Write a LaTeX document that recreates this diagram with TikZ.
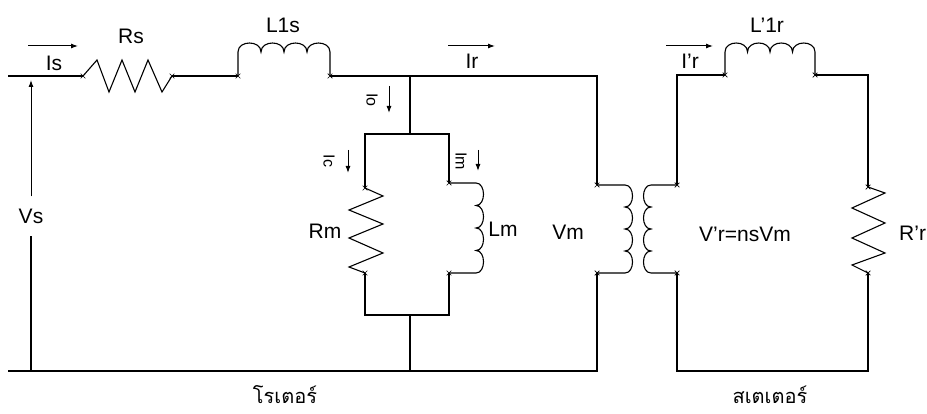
\documentclass[tikz,border=0pt]{standalone}
\usepackage{fontspec}
\setmainfont{Liberation Sans}
\newfontfamily\thaifont[Script=Thai]{Loma}
\usetikzlibrary{arrows.meta,shapes.misc}

\begin{document}
\begin{tikzpicture}[x=1pt,y=-1pt,
    wire/.style={line width=1.1pt},
    cur/.style={-{Latex[length=7pt,width=5pt]},line width=1pt},
    term/.style={cross out,draw,minimum size=4pt,inner sep=0pt,line width=0.7pt},
    lbl/.style={font=\fontsize{21}{24}\selectfont,inner sep=1pt},
    sub/.style={font=\fontsize{16}{18}\selectfont,rotate=-90,inner sep=1pt},
    thai/.style={font=\thaifont\fontsize{20}{24}\selectfont}]

    \useasboundingbox (0,0) rectangle (927,414);

    % terminals and corners
    \coordinate (inT) at (8,76);
    \coordinate (inB) at (8,371);
    \coordinate (rsA) at (83,76);
    \coordinate (rsB) at (172,76);
    \coordinate (l1sA) at (238,76);
    \coordinate (l1sB) at (330,76);
    \coordinate (jTop) at (410,76);
    \coordinate (jBar) at (410,134);
    \coordinate (barL) at (365,134);
    \coordinate (barR) at (449,134);
    \coordinate (rmA) at (365,188);
    \coordinate (rmB) at (365,273);
    \coordinate (lmA) at (449,183);
    \coordinate (lmB) at (449,273);
    \coordinate (lowL) at (365,315);
    \coordinate (lowR) at (449,315);
    \coordinate (jLow) at (410,315);
    \coordinate (jBot) at (410,371);
    \coordinate (priT) at (597,76);
    \coordinate (priA) at (597,185);
    \coordinate (priB) at (597,273);
    \coordinate (priD) at (597,371);
    \coordinate (secT) at (677,75);
    \coordinate (secA) at (677,185);
    \coordinate (secB) at (677,273);
    \coordinate (secD) at (677,371);
    \coordinate (l1rA) at (725,75);
    \coordinate (l1rB) at (815,75);
    \coordinate (rrT) at (868,75);
    \coordinate (rrA) at (868,187);
    \coordinate (rrB) at (868,273);
    \coordinate (rrD) at (868,371);
    \coordinate (vsB) at (31,371);
    \coordinate (vsT) at (31,80);

    % wires
    \draw[wire] (inT) -- (rsA);
    \draw[wire] (rsB) -- (l1sA);
    \draw[wire] (l1sB) -- (priT) -- (priA);
    \draw[wire] (jTop) -- (jBar);
    \draw[wire] (rmA) -- (barL) -- (barR) -- (lmA);
    \draw[wire] (rmB) -- (lowL) -- (lowR) -- (lmB);
    \draw[wire] (jLow) -- (jBot);
    \draw[wire] (inB) -- (priD) -- (priB);
    \draw[wire] (secA) -- (secT) -- (l1rA);
    \draw[wire] (l1rB) -- (rrT) -- (rrA);
    \draw[wire] (rrB) -- (rrD) -- (secD) -- (secB);

    % resistors
    \draw[wire] (rsA) -- (97,60) -- (109,92) -- (122,60) -- (135,92) -- (148,60) -- (162,92) -- (rsB);
    \draw[wire] (rmA) -- (383,196) -- (349,210) -- (383,224) -- (349,238) -- (383,253) -- (349,267) -- (rmB);
    \draw[wire] (rrA) -- (885,193) -- (852,208) -- (885,223) -- (852,238) -- (885,253) -- (852,265) -- (rrB);

    % coils
    \draw[wire] (l1sA) -- (238,52) \foreach \k in {1,...,4}{ .. controls +(0,-12) and +(0,-12) .. ++(23,0)} -- (l1sB);
    \draw[wire] (l1rA) -- (725,52) \foreach \k in {1,...,4}{ .. controls +(0,-12) and +(0,-12) .. ++(22.5,0)} -- (l1rB);
    \draw[wire] (lmA) -- (476,183) \foreach \k in {1,...,4}{ .. controls +(10,0) and +(10,0) .. ++(0,22.5)} -- (lmB);
    \draw[wire] (priA) -- (625,185) \foreach \k in {1,...,4}{ .. controls +(10,0) and +(10,0) .. ++(0,22)} -- (priB);
    \draw[wire] (secA) -- (651,185) \foreach \k in {1,...,4}{ .. controls +(-10,0) and +(-10,0) .. ++(0,22)} -- (secB);

    \foreach \p in {rsA,rsB,l1sA,l1sB,rmA,rmB,lmA,lmB,priA,priB,secA,secB,l1rA,l1rB,rrA,rrB}
        \node[term] (x\p) at (\p) {};

    % source
    \node[lbl,inner ysep=12pt] (vs) at (31,216) {Vs};
    \draw[wire] (vsB) -- (vs.south);
    \draw[cur] (vs.north) -- (vsT);

    % currents
    \coordinate (isA) at (28,46);
    \coordinate (isB) at (78,46);
    \coordinate (irA) at (448,46);
    \coordinate (irB) at (495,46);
    \coordinate (irrA) at (666,46);
    \coordinate (irrB) at (713,46);
    \coordinate (ioA) at (389,86);
    \coordinate (ioB) at (389,113);
    \coordinate (icA) at (348,150);
    \coordinate (icB) at (348,173);
    \coordinate (imA) at (478,150);
    \coordinate (imB) at (478,171);
    \draw[cur] (isA) -- (isB);
    \draw[cur] (irA) -- (irB);
    \draw[cur] (irrA) -- (irrB);
    \draw[cur] (ioA) -- (ioB);
    \draw[cur] (icA) -- (icB);
    \draw[cur] (imA) -- (imB);

    % labels
    \node[lbl] (is) at (54,63) {Is};
    \node[lbl] (rs) at (131,36) {Rs};
    \node[lbl] (l1s) at (283,25) {L1s};
    \node[lbl] (ir) at (472,61) {Ir};
    \node[lbl] (irr) at (690,61) {I'r};
    \node[lbl] (l1r) at (767,25) {L'1r};
    \node[lbl] (rm) at (325,231) {Rm};
    \node[lbl] (lm) at (503,229) {Lm};
    \node[lbl] (vm) at (568,232) {Vm};
    \node[lbl] (vr) at (745,234) {V'r=nsVm};
    \node[lbl,anchor=west,inner sep=0pt] (rr) at (899,233) {R'r};
    \node[sub] (io) at (372,100) {Io};
    \node[sub] (ic) at (329,161) {Ic};
    \node[sub] (im) at (461,161) {Im};
    \node[thai] (rotor) at (285,395) {โรเตอร์};
    \node[thai] (stator) at (770,395) {สเตเตอร์};
\end{tikzpicture}
\end{document}
